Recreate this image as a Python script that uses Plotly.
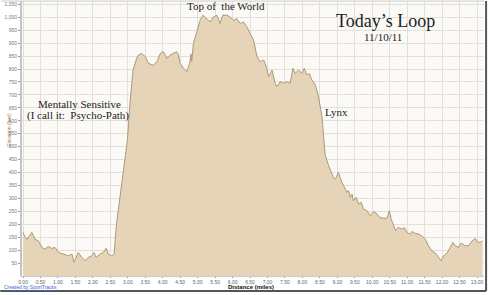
import plotly.graph_objects as go

distance = [0.00, 0.06, 0.12, 0.25, 0.34, 0.44, 0.54, 0.63, 0.72, 0.82, 0.92, 1.01, 1.15, 1.30,
            1.40, 1.46, 1.52, 1.58, 1.68, 1.78, 1.87, 1.97, 2.03, 2.09, 2.21, 2.30, 2.38, 2.44,
            2.54, 2.61, 2.64, 2.68, 2.78, 2.88, 2.95, 2.99, 3.07, 3.15, 3.24, 3.30, 3.40, 3.50,
            3.59, 3.73, 3.83, 3.93, 4.02, 4.12, 4.21, 4.31, 4.40, 4.45, 4.50, 4.59, 4.69, 4.77,
            4.81, 4.83, 4.88, 4.98, 5.07, 5.15, 5.26, 5.36, 5.45, 5.55, 5.64, 5.72, 5.84, 5.93,
            6.03, 6.12, 6.22, 6.31, 6.41, 6.50, 6.60, 6.70, 6.79, 6.89, 6.98, 7.03, 7.13, 7.22,
            7.27, 7.36, 7.46, 7.56, 7.65, 7.73, 7.79, 7.89, 7.99, 8.05, 8.13, 8.20, 8.27, 8.37,
            8.46, 8.56, 8.61, 8.65, 8.75, 8.85, 8.91, 8.97, 9.03, 9.08, 9.13, 9.23, 9.28, 9.32,
            9.37, 9.42, 9.46, 9.54, 9.61, 9.68, 9.75, 9.85, 9.94, 10.04, 10.11, 10.21, 10.32,
            10.42, 10.49, 10.54, 10.61, 10.67, 10.74, 10.85, 10.92, 10.99,
            11.09, 11.14, 11.23, 11.33, 11.42, 11.52, 11.61, 11.71, 11.81, 11.90, 11.97, 12.04,
            12.14, 12.23, 12.31, 12.38, 12.47, 12.54, 12.66, 12.76, 12.86, 12.95, 13.02, 13.09,
            13.16]
elevation = [168, 149, 142, 169, 142, 136, 110, 104, 114, 107, 110, 91, 85, 78,
             85, 53, 72, 91, 72, 59, 72, 78, 91, 72, 85, 91, 107, 85,
             78, 85, 142, 206, 309, 412, 488, 527, 680, 796, 835, 854, 860, 848,
             822, 815, 828, 860, 867, 841, 854, 860, 867, 854, 822, 803, 790, 822,
             858, 830, 899, 945, 988, 1008, 995, 982, 1001, 1008, 976, 1008, 1008, 1001,
             988, 995, 976, 982, 963, 937, 912, 848, 828, 835, 803, 770, 796, 745,
             732, 751, 745, 751, 745, 803, 783, 796, 783, 803, 777, 783, 758, 738,
             693, 617, 540, 470, 426, 394, 375, 381, 401, 381, 362, 336, 323, 330,
             304, 317, 291, 304, 278, 285, 259, 252, 233, 249, 243, 227, 223,
             223, 252, 220, 194, 175, 188, 181, 187, 168,
             162, 172, 165, 162, 155, 142, 117, 97, 88, 72, 59, 78,
             88, 110, 130, 117, 110, 127, 117, 117, 136, 145, 130, 130,
             136]

x_ticks = [i * 0.5 for i in range(27)]
x_tick_labels = ["%.2f" % v for v in x_ticks]
y_ticks = list(range(50, 1051, 50))
y_tick_labels = ["{:,}".format(v) for v in y_ticks]

serif = "Liberation Serif, Times New Roman, serif"
sans = "Liberation Sans, Arial, sans-serif"

fig = go.Figure()
fig.add_trace(go.Scatter(
    x=distance, y=elevation, mode="lines", fill="tozeroy",
    line=dict(color="#AE9878", width=1), fillcolor="#E6D4B9",
    hoverinfo="x+y", showlegend=False))

fig.update_layout(
    width=489, height=295,
    margin=dict(l=22, r=5, t=1, b=19),
    paper_bgcolor="white", plot_bgcolor="#FBFAF6",
    xaxis=dict(range=[-0.03, 13.2], tickvals=x_ticks, ticktext=x_tick_labels,
               tickangle=0,
               showgrid=True, gridcolor="#E3E0DA", gridwidth=1, zeroline=False,
               ticks="outside", ticklen=1, tickcolor="#999",
               tickfont=dict(family=sans, size=5, color="#666"),
               showline=True, linecolor="#C9C9C9", linewidth=1),
    yaxis=dict(range=[0, 1063], tickvals=y_ticks, ticktext=y_tick_labels,
               showgrid=True, gridcolor="#E3E0DA", gridwidth=1, zeroline=False,
               ticks="outside", ticklen=2, tickcolor="#999",
               tickfont=dict(family=sans, size=5, color="#777"),
               showline=True, linecolor="#C4C4C4", linewidth=2),
    annotations=[
        dict(x=5.82, y=1044, xref="x", yref="y", text="Top of  the World", showarrow=False,
             font=dict(family=serif, size=11, color="#222")),
        dict(x=10.37, y=986, xref="x", yref="y", text="Today’s Loop", showarrow=False,
             font=dict(family=serif, size=18, color="#222")),
        dict(x=10.32, y=924, xref="x", yref="y", text="11/10/11", showarrow=False,
             font=dict(family=serif, size=11, color="#222")),
        dict(x=1.63, y=665, xref="x", yref="y", text="Mentally Sensitive", showarrow=False,
             font=dict(family=serif, size=11, color="#222")),
        dict(x=1.58, y=619, xref="x", yref="y", text="(I call it:  Psycho-Path)", showarrow=False,
             font=dict(family=serif, size=11, color="#222")),
        dict(x=8.97, y=634, xref="x", yref="y", text="Lynx", showarrow=False,
             font=dict(family=serif, size=11, color="#222")),
        dict(x=-0.039, y=0.531, xref="paper", yref="paper", text="Elevation (feet)", textangle=-90,
             showarrow=False, font=dict(family=sans, size=5, color="#A0783C")),
        dict(x=0.496, y=-0.040, xref="paper", yref="paper", yanchor="middle",
             text="<b>Distance (miles)</b>",
             showarrow=False, font=dict(family=sans, size=6, color="#111")),
        dict(x=-0.044, y=-0.0418, xref="paper", yref="paper", xanchor="left", yanchor="middle",
             text="<u>Created by SportTracks</u>", showarrow=False,
             font=dict(family=sans, size=5, color="#4466CC")),
    ],
    shapes=[
        dict(type="line", xref="paper", yref="paper", x0=1.0045, x1=1.0045, y0=1.0, y1=-0.0545,
             line=dict(color="#555555", width=2)),
        dict(type="line", xref="paper", yref="paper", x0=-0.047, x1=1.0045, y0=-0.0545, y1=-0.0545,
             line=dict(color="#555555", width=2)),
        dict(type="line", xref="paper", yref="paper", x0=-0.045, x1=1.0, y0=1.0, y1=1.0,
             line=dict(color="#CCCCCC", width=1)),
    ],
)

fig.write_html("out.html")
